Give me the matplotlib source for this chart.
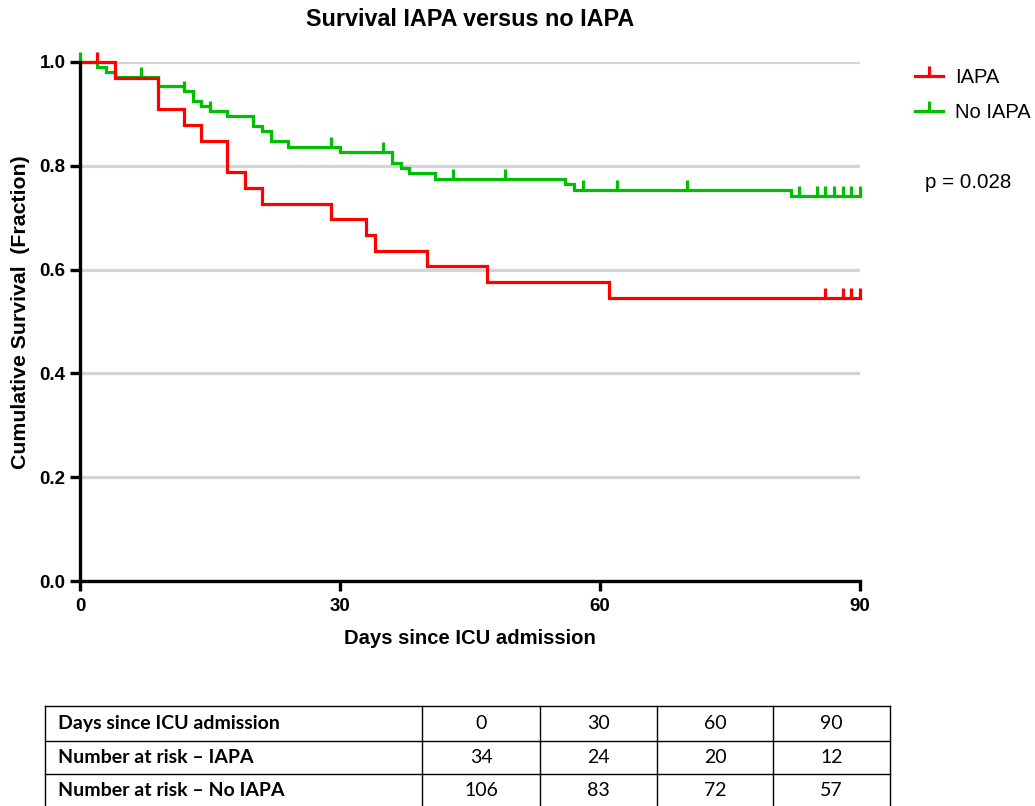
import numpy as np
import matplotlib
matplotlib.use("Agg")
import matplotlib.pyplot as plt
from matplotlib.path import Path
from matplotlib.lines import Line2D

# ---------------- data ----------------
title = "Survival IAPA versus no IAPA"
xlabel = "Days since ICU admission"
ylabel = "Cumulative Survival  (Fraction)"
p_text = "p = 0.028"
series_names = ["IAPA", "No IAPA"]

iapa_days = [0, 4, 9, 12, 14, 17, 19, 21, 29, 33, 34, 40, 47, 61, 90]
iapa_surv = [1.0, 0.970, 0.909, 0.879, 0.848, 0.788, 0.758, 0.727, 0.697,
             0.667, 0.636, 0.606, 0.576, 0.545, 0.545]
iapa_censored = [2, 86, 88, 89, 90]

noiapa_days = [0, 2, 3, 4, 9, 12, 13, 14, 15, 17, 20, 21, 22, 24, 30, 36, 37,
               38, 41, 56, 57, 82, 90]
noiapa_surv = [1.0, 0.991, 0.981, 0.972, 0.953, 0.944, 0.925, 0.915, 0.906,
               0.896, 0.877, 0.867, 0.847, 0.837, 0.826, 0.806, 0.796, 0.786,
               0.775, 0.764, 0.753, 0.742, 0.742]
noiapa_censored = [0, 7, 12, 15, 29, 35, 43, 49, 58, 62, 70, 83, 85, 86, 87,
                   88, 89, 90]

x_ticks = [0, 30, 60, 90]
y_ticks = [0.0, 0.2, 0.4, 0.6, 0.8, 1.0]

table_header = "Days since ICU admission"
table_row_labels = ["Number at risk \u2013 IAPA", "Number at risk \u2013 No IAPA"]
table_days = [0, 30, 60, 90]
risk_iapa = [34, 24, 20, 12]
risk_noiapa = [106, 83, 72, 57]

# ---------------- style ----------------
RED = "#FF0000"
GREEN = "#00BE00"
LW = 2.3
plt.rcParams["font.family"] = ["Liberation Sans", "DejaVu Sans"]

W, H = 1035, 806
fig = plt.figure(figsize=(W / 100, H / 100), dpi=100)


def fx(px):
    return px / W


def fy(py):
    return 1 - py / H


ax = fig.add_axes([fx(80), fy(581), fx(860) - fx(80), fy(62) - fy(581)])
ax.set_xlim(0, 90)
ax.set_ylim(0, 1.0)

for s in ["top", "right"]:
    ax.spines[s].set_visible(False)
for s in ["left", "bottom"]:
    ax.spines[s].set_linewidth(2.4)
    ax.spines[s].set_capstyle("projecting")

ax.set_axisbelow(True)
ax.yaxis.grid(True, color="#d4d4d4", lw=2.3)
ax.set_xticks(x_ticks)
ax.set_yticks(y_ticks)
ax.set_xticklabels([str(v) for v in x_ticks])
ax.set_yticklabels([f"{v:.1f}" for v in y_ticks])
ax.tick_params(axis="both", direction="out", length=7.5, width=2.4,
               labelsize=13.5)
ax.tick_params(axis="x", pad=5)
ax.tick_params(axis="y", pad=3)
for lab in ax.get_xticklabels() + ax.get_yticklabels():
    lab.set_fontweight("bold")

tick_marker = Path([(0, 0), (0, 1)], [Path.MOVETO, Path.LINETO])


def surv_at(days, surv, t):
    idx = np.searchsorted(np.asarray(days), t, side="right") - 1
    return np.asarray(surv)[idx]


for days, surv, cens, col in [
    (noiapa_days, noiapa_surv, noiapa_censored, GREEN),
    (iapa_days, iapa_surv, iapa_censored, RED),
]:
    ax.step(days, surv, where="post", color=col, lw=LW, clip_on=False,
            solid_joinstyle="miter")
    cens = np.asarray(cens)
    ax.plot(cens, surv_at(days, surv, cens), ls="none", marker=tick_marker,
            ms=14.5, mew=LW, color=col, clip_on=False)

handles = [
    Line2D([], [], color=RED, lw=LW, marker=tick_marker, ms=14.5, mew=LW),
    Line2D([], [], color=GREEN, lw=LW, marker=tick_marker, ms=14.5, mew=LW),
]
ax.legend(handles, series_names, loc="upper left",
          bbox_to_anchor=(fx(915), fy(68)), bbox_transform=fig.transFigure,
          frameon=False, prop={"family": "Liberation Sans", "size": 14.5},
          handlelength=1.4, handletextpad=0.6, labelspacing=0.8,
          borderpad=0, borderaxespad=0, numpoints=1)

fig.text(fx(925), fy(182), p_text, fontsize=14.8, ha="left", va="center")
fig.text(fx(470), fy(20), title, fontsize=16.8, fontweight="bold",
         ha="center", va="center")
fig.text(fx(470), fy(639), xlabel, fontsize=14.6, fontweight="bold",
         ha="center", va="center")
fig.text(fx(21), fy(312), ylabel, fontsize=15.3, fontweight="bold",
         ha="center", va="center", rotation=90)

# ---------------- number-at-risk table ----------------
tax = fig.add_axes([0, 0, 1, 1])
tax.set_xlim(0, W)
tax.set_ylim(H, 0)
tax.axis("off")
tax.patch.set_alpha(0)

col_edges = [45, 422, 540, 657, 773, 890]
row_edges = [706, 740.5, 774, 808]
for yv in row_edges:
    tax.plot([col_edges[0], col_edges[-1]], [yv, yv], color="black", lw=1.0,
             solid_capstyle="projecting")
for xv in col_edges:
    tax.plot([xv, xv], [row_edges[0], row_edges[-1]], color="black", lw=1.0,
             solid_capstyle="projecting")

tfont = ["Lato", "DejaVu Sans"]
rows = [(table_header, table_days), (table_row_labels[0], risk_iapa),
        (table_row_labels[1], risk_noiapa)]
for i, (lab, vals) in enumerate(rows):
    yc = (row_edges[i] + row_edges[i + 1]) / 2
    tax.text(58, yc, lab, family=tfont, fontsize=14, fontweight="bold",
             ha="left", va="center")
    for j, v in enumerate(vals):
        xc = (col_edges[j + 1] + col_edges[j + 2]) / 2
        tax.text(xc, yc, str(v), family=tfont, fontsize=14, ha="center",
                 va="center")

fig.savefig("out.png", dpi=100)
